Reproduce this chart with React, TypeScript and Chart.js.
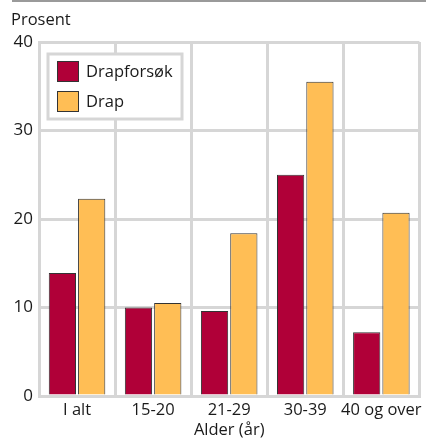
import React, { useEffect, useRef } from "react";
import { Chart, registerables } from "chart.js";

Chart.register(...registerables);

const categories = ["I alt", "15-20", "21-29", "30-39", "40 og over"];
const drapforsok = [13.9, 10.0, 9.6, 25.0, 7.2];
const drap = [22.3, 10.5, 18.4, 35.5, 20.7];
const seriesNames = ["Drapforsøk", "Drap"];
const yTicks = [0, 10, 20, 30, 40];
const yTitle = "Prosent";
const xTitle = "Alder (år)";

const FONT = "'Open Sans', 'DejaVu Sans', sans-serif";
const RED = "#B00038";
const ORANGE = "#FFBE55";
const TEXT = "#1a1a1a";
const GRID = "#d6d6d6";

const overlay = {
  id: "overlay",
  afterDraw(chart: any) {
    const ctx = chart.ctx;
    ctx.save();
    ctx.strokeStyle = "#9a9a9a";
    ctx.lineWidth = 2;
    ctx.beginPath();
    ctx.moveTo(12, 1);
    ctx.lineTo(426, 1);
    ctx.stroke();
    ctx.fillStyle = TEXT;
    ctx.font = `16.5px ${FONT}`;
    ctx.textAlign = "left";
    ctx.textBaseline = "middle";
    ctx.fillText(yTitle, 11, 20);
    const lx = 48, ly = 54, lw = 134, lh = 65;
    ctx.fillStyle = "#ffffff";
    ctx.fillRect(lx, ly, lw, lh);
    ctx.strokeStyle = GRID;
    ctx.lineWidth = 3;
    ctx.strokeRect(lx, ly, lw, lh);
    chart.data.datasets.forEach((ds: any, i: number) => {
      const sy = ly + 7 + i * 30;
      ctx.fillStyle = ds.backgroundColor;
      ctx.fillRect(lx + 9, sy, 22, 21);
      ctx.strokeStyle = "#333";
      ctx.lineWidth = 1;
      ctx.strokeRect(lx + 9.5, sy + 0.5, 21, 20);
      ctx.fillStyle = TEXT;
      ctx.font = `16.5px ${FONT}`;
      ctx.textAlign = "left";
      ctx.textBaseline = "middle";
      ctx.fillText(ds.label, lx + 38, sy + 11);
    });
    ctx.restore();
  },
};

export default function App() {
  const ref = useRef<HTMLCanvasElement>(null);
  useEffect(() => {
    document.body.style.margin = "0";
    const chart = new Chart(ref.current!, {
      type: "bar",
      data: {
        labels: categories,
        datasets: [
          {
            label: seriesNames[0],
            data: drapforsok,
            backgroundColor: RED,
            borderColor: "#333",
            borderWidth: 1,
            categoryPercentage: 0.77,
            barPercentage: 0.93,
          },
          {
            label: seriesNames[1],
            data: drap,
            backgroundColor: ORANGE,
            borderColor: "#333",
            borderWidth: 1,
            categoryPercentage: 0.77,
            barPercentage: 0.93,
          },
        ],
      },
      options: {
        animation: false,
        responsive: false,
        devicePixelRatio: 1,
        layout: { padding: { top: 42, right: 4, left: 0, bottom: 0 } },
        plugins: {
          legend: { display: false },
          tooltip: { enabled: false },
          title: { display: false },
        },
        scales: {
          x: {
            grid: { color: GRID, lineWidth: 3, drawTicks: false, offset: true },
            border: { color: GRID, width: 3 },
            ticks: { color: TEXT, font: { family: FONT, size: 16.5 }, padding: 4, maxRotation: 0, autoSkip: false },
            title: { display: true, text: xTitle, color: TEXT, font: { family: FONT, size: 16.5 }, padding: { top: -2, bottom: 0 } },
            afterFit(scale: any) { scale.height = 44; },
          },
          y: {
            min: 0,
            max: 40,
            afterBuildTicks(scale: any) { scale.ticks = yTicks.map((v) => ({ value: v })); },
            grid: { color: GRID, lineWidth: 3, drawTicks: false },
            border: { color: GRID, width: 3 },
            ticks: { color: TEXT, font: { family: FONT, size: 17 }, padding: 6 },
            afterFit(scale: any) { scale.width = 39; },
          },
        },
      },
      plugins: [overlay],
    });
    return () => chart.destroy();
  }, []);
  return (
    <div style={{ position: "absolute", left: 0, top: 0, width: 426, height: 440 }}>
      <canvas ref={ref} width={426} height={440} style={{ width: 426, height: 440 }} />
    </div>
  );
}
